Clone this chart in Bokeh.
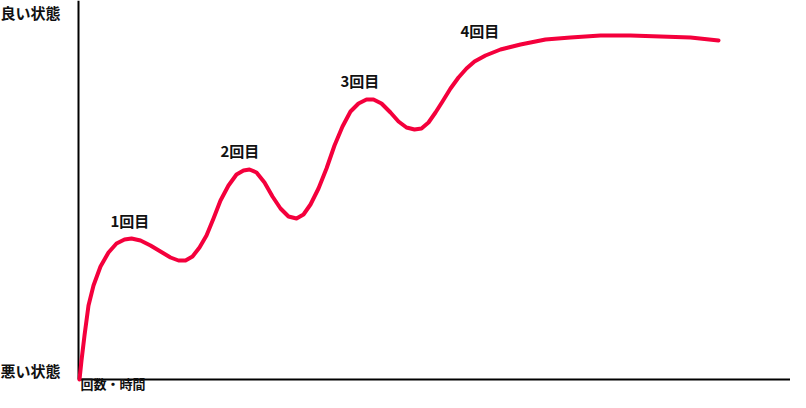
from bokeh.plotting import figure
from bokeh.models import ColumnDataSource, Range1d
from bokeh.core.properties import value
from bokeh.embed import file_html
from bokeh.resources import INLINE

# Curve (x: 回数・時間, y: 状態; 0 = 悪い状態, 379 = top)
time_x = [1, 3, 6, 10, 15, 22, 30, 38, 46, 53, 62, 72, 82, 92, 100, 107, 114, 121,
          128, 135, 142, 150, 158, 165, 171, 178, 186, 194, 202, 210, 218, 225, 232,
          240, 248, 256, 264, 272, 280, 288, 295, 303, 312, 320, 328, 336, 343, 350,
          357, 364, 372, 380, 388, 396, 407, 422, 442, 467, 492, 522, 552, 582, 612, 640]
state_y = [0, 19, 44, 74, 94, 113, 127, 136, 140, 141, 139, 134, 128, 122, 119, 119,
           123, 132, 144, 161, 179, 194, 205, 209, 210, 207, 197, 183, 171, 163, 161,
           165, 175, 191, 211, 234, 253, 268, 276, 280, 280, 276, 267, 258, 252, 250,
           251, 257, 267, 278, 291, 302, 311, 318, 324, 330, 335, 340, 342, 344, 344,
           343, 342, 339]

attempt_labels = ["1回目", "2回目", "3回目", "4回目"]
attempt_x = [32, 142, 262, 382]
attempt_y = [159, 229, 299, 349]

x_title = "回数・時間"
y_labels = ["悪い状態", "良い状態"]
y_label_at = [9, 367]

# axis extents (data units)
X_MIN, X_MAX = 0, 712
Y_MIN, Y_MAX = 0, 379
# room kept for the texts outside the axes
PAD_LEFT, PAD_BOTTOM = 78, 13

FONT = "Noto Sans CJK JP"

p = figure(width=790, height=392, output_backend="svg", toolbar_location=None,
           x_range=Range1d(X_MIN - PAD_LEFT, X_MAX),
           y_range=Range1d(Y_MIN - PAD_BOTTOM, Y_MAX),
           min_border=0)
p.axis.visible = False
p.grid.visible = False
p.outline_line_color = None
p.background_fill_color = "white"
p.border_fill_color = "white"

# axes lines
p.segment(x0=[X_MIN, X_MIN], y0=[Y_MIN, Y_MIN], x1=[X_MIN, X_MAX], y1=[Y_MAX, Y_MIN],
          line_color="black", line_width=2)

p.line(time_x, state_y, line_color="#F4003C", line_width=4,
       line_join="round", line_cap="round")

src = ColumnDataSource(dict(x=attempt_x, y=attempt_y, t=attempt_labels))
p.text(x="x", y="y", text="t", source=src, text_font=value(FONT),
       text_font_size="15px", text_font_style="bold", text_baseline="middle",
       text_align="left", text_color="#111111")

ysrc = ColumnDataSource(dict(x=[X_MIN - PAD_LEFT] * 2, y=y_label_at, t=y_labels))
p.text(x="x", y="y", text="t", source=ysrc, text_font=value(FONT),
       text_font_size="15px", text_font_style="bold", text_baseline="middle",
       text_align="left", text_color="#111111")

p.text(x=[X_MIN + 2], y=[Y_MIN - PAD_BOTTOM], text=[x_title], text_font=value(FONT),
       text_font_size="13px", text_font_style="bold", text_baseline="bottom",
       text_align="left", text_color="#111111")

open("out.html", "w").write(file_html(p, INLINE))
